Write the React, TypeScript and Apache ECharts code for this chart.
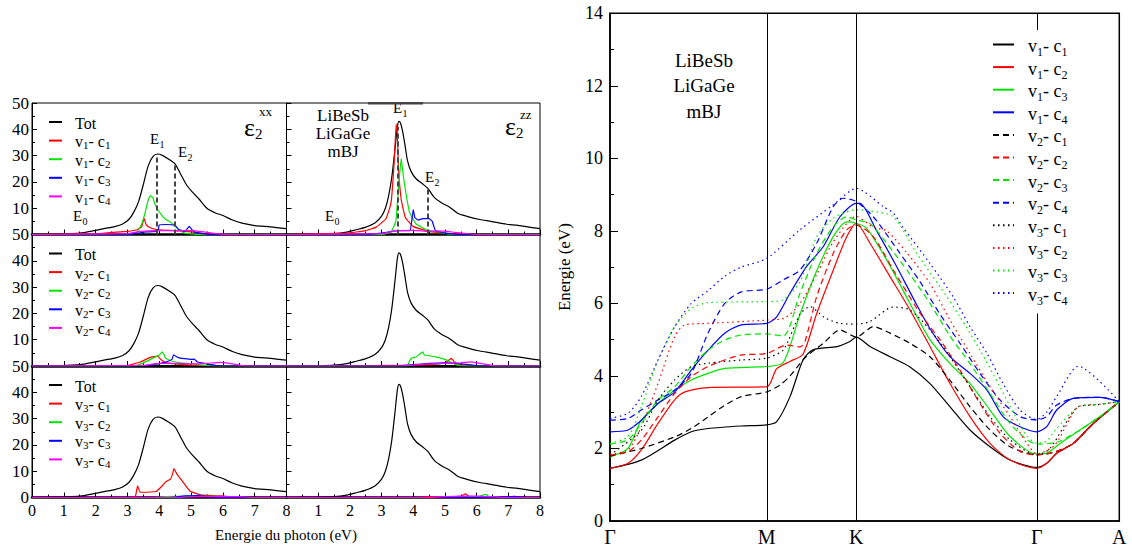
import React, { useEffect, useRef } from "react";
import * as echarts from "echarts";

const SERIF = "'Liberation Serif', 'DejaVu Serif', serif";

// ---------- optical spectra (epsilon_2) ----------
const ENERGY_MAX = 8;
const EPS_MAX = 50;

const TOT_XX = [[0,0],[0.5,0.05],[1.0,0.2],[1.5,0.5],[2.0,1.6],[2.3,2.3],[2.6,3.0],[2.85,4.0],[3.05,5.8],[3.2,8.5],[3.35,12.5],[3.5,19],[3.65,26],[3.8,29.6],[3.95,30.6],[4.1,30.1],[4.3,28.6],[4.5,26.8],[4.65,23.5],[4.85,19],[5.05,16],[5.25,13.5],[5.5,10],[5.75,8.3],[6.0,7.2],[6.3,5.5],[6.6,4.3],[7.0,3.4],[7.5,2.9],[8.0,2.2]];
const TOT_ZZ = [[0,0],[1.0,0.1],[1.5,0.3],[1.9,0.9],[2.2,1.8],[2.5,2.8],[2.8,4.5],[3.0,7],[3.12,10],[3.22,14.5],[3.32,21.5],[3.42,32],[3.5,41],[3.55,43],[3.6,42.3],[3.66,39.5],[3.74,34],[3.82,28],[3.93,24],[4.09,21.2],[4.3,19.2],[4.46,17.5],[4.67,14],[4.9,12],[5.15,10.4],[5.4,8.1],[5.67,7.0],[6.1,5.7],[6.45,5.0],[6.95,3.9],[7.3,3.5],[8,2.2]];

const XX_V1_C1 = [[0,0],[2.0,0.3],[2.5,0.8],[3.0,1.2],[3.3,1.8],[3.45,3],[3.52,6.2],[3.58,4],[3.65,3],[3.8,2.2],[4.0,1.8],[4.5,1.5],[5.0,1.0],[5.5,0.2],[6,0],[8,0]];
const XX_V1_C2 = [[0,0],[3.0,0],[3.3,0.8],[3.45,4],[3.55,8],[3.65,13],[3.72,14.8],[3.8,14],[3.85,12],[3.95,9.5],[4.1,7],[4.2,5.8],[4.35,4.7],[4.5,3.1],[4.65,1.5],[4.8,0.5],[5.2,0],[8,0]];
const XX_V1_C3 = [[0,0],[3.0,0],[3.3,0.5],[3.6,1.0],[3.95,1.2],[4.0,3.6],[4.2,3.8],[4.5,3.5],[4.6,2.0],[4.8,1.2],[4.95,3.1],[5.0,2.2],[5.1,1.0],[5.3,0.4],[5.6,0],[8,0]];
const XX_V1_C4 = [[0,0],[3.0,0.3],[3.4,1.2],[4.0,1.5],[4.5,1.4],[5.0,1.5],[5.4,1.0],[5.8,0.3],[6.2,0],[8,0]];

const XX_V2_C1 = [[0,0],[3.0,0.2],[3.4,1.5],[3.7,3.2],[3.95,3.8],[4.05,2.5],[4.2,1.3],[4.5,0.8],[5.0,0.3],[5.5,0],[8,0]];
const XX_V2_C2 = [[0,0],[3.2,0],[3.5,1.2],[3.8,3],[4.0,4.2],[4.1,5.4],[4.2,3.0],[4.4,1.8],[4.7,1.2],[5.0,0.8],[5.5,0.2],[6,0],[8,0]];
const XX_V2_C3 = [[0,0],[3.4,0],[3.8,0.5],[4.2,1.5],[4.4,2.5],[4.45,4.2],[4.6,3.2],[4.8,2.8],[5.0,2.5],[5.1,2.6],[5.2,1.5],[5.5,0.8],[5.8,0.2],[6.2,0],[8,0]];
const XX_V2_C4 = [[0,0],[3.5,0.2],[4.0,1.0],[4.5,1.0],[5.0,0.8],[5.5,1.0],[5.9,1.4],[6.2,1.0],[6.6,0.2],[7,0],[8,0]];

const XX_V3_C1 = [[0,0],[3.1,0],[3.25,0.5],[3.32,4.4],[3.4,2.0],[3.9,2.3],[4.1,4.5],[4.2,5.9],[4.35,7.0],[4.42,9],[4.46,11],[4.55,9],[4.7,6.6],[4.96,2.5],[5.3,1.0],[5.7,0.7],[6.0,0.6],[6.3,0],[8,0]];
const XX_V3_C2 = [[0,0],[3.8,0],[4.2,0.3],[5.0,0.5],[5.8,0.4],[6.3,0],[8,0]];
const XX_V3_C3 = [[0,0],[4.3,0],[4.8,0.6],[5.2,0.7],[5.6,0.3],[6,0],[8,0]];
const XX_V3_C4 = [[0,0],[4.5,0],[5.2,0.3],[6.0,0.4],[6.5,0.3],[7.0,0],[8,0]];

const ZZ_V1_C1 = [[0,0],[1.9,0.5],[2.5,1.5],[2.83,2.8],[3.14,6],[3.3,12],[3.4,28],[3.46,42],[3.5,38],[3.53,26],[3.62,13.3],[3.75,6.5],[4.0,3],[4.5,1.2],[5.0,0.5],[5.5,0.1],[6,0],[8,0]];
const ZZ_V1_C2 = [[0,0],[3.0,0],[3.3,1],[3.45,5],[3.55,20],[3.62,29],[3.66,25],[3.72,19.4],[3.88,8.5],[4.09,4],[4.41,1.8],[4.83,0.9],[5.2,0],[8,0]];
const ZZ_V1_C3 = [[0,0],[2.5,0],[3.0,0.5],[3.5,1.5],[3.9,1.5],[3.95,5],[4.0,9.5],[4.05,6.5],[4.15,5.5],[4.3,6],[4.5,6],[4.6,5],[4.7,1.5],[5.0,0.5],[5.5,0],[8,0]];
const ZZ_V1_C4 = [[0,0],[3.0,0.3],[3.5,1.5],[4.0,1.6],[4.5,1.2],[5.0,1.3],[5.3,0.8],[5.8,0.2],[6.2,0],[8,0]];

const ZZ_V2_C1 = [[0,0],[2,0],[3,0.2],[4,0.3],[4.8,0.8],[5.05,1.5],[5.2,2.9],[5.3,1.5],[5.5,0.3],[6,0],[8,0]];
const ZZ_V2_C2 = [[0,0],[3.8,0],[3.93,2.9],[4.1,3.5],[4.3,5.4],[4.35,4.2],[4.7,3.5],[5.0,2.5],[5.3,0.8],[5.5,0],[8,0]];
const ZZ_V2_C3 = [[0,0],[3.5,0],[4.0,0.5],[4.5,1.0],[5.0,1.2],[5.5,0.8],[6.0,0.2],[6.4,0],[8,0]];
const ZZ_V2_C4 = [[0,0],[3.5,0],[4.5,0.8],[5.0,1.0],[5.5,1.2],[5.8,1.6],[6.1,1.0],[6.5,0.2],[7,0],[8,0]];

const ZZ_V3_C1 = [[0,0],[4.1,0],[4.5,0.3],[5.5,0.4],[5.65,1.5],[5.75,0.4],[6.2,0],[8,0]];
const ZZ_V3_C2 = [[0,0],[5.5,0],[6.0,0.3],[6.3,1.2],[6.4,0.3],[6.8,0],[8,0]];
const ZZ_V3_C3 = [[0,0],[6.5,0],[7.2,0.4],[7.6,0],[8,0]];
const ZZ_V3_C4 = [[0,0],[4.5,0],[5.0,0.3],[5.5,0.5],[6.0,0.5],[6.6,0.2],[7,0],[8,0]];

// transition energies marked by dashed lines: [energy, eps2 at that energy]
const E_MARKS_XX = [[3.92, 30.6], [4.5, 26.8]];
const E_MARKS_ZZ = [[3.5, 41], [4.45, 17.5]];

// ---------- band structure ----------
const K_POINTS = [0, 1.567, 2.463, 4.267, 5.093];
const K_LABELS = ["Γ", "M", "K", "Γ", "A"];
const BAND_E_MAX = 14;

const B_V1_C1 = [[0,1.45],[0.313,1.68],[0.647,2.23],[0.813,2.46],[0.98,2.55],[1.313,2.62],[1.567,2.65],[1.667,2.74],[1.8,3.43],[1.93,4.44],[2.03,4.72],[2.27,4.81],[2.4,4.95],[2.463,5.07],[2.6,4.81],[2.8,4.53],[3.0,4.25],[3.2,3.79],[3.4,3.15],[3.6,2.51],[3.8,2.05],[4.0,1.68],[4.267,1.48],[4.367,1.59],[4.467,1.87],[4.633,2.14],[4.833,2.69],[5.093,3.29]];
const B_V1_C2 = [[0,1.45],[0.18,1.59],[0.313,1.96],[0.48,2.69],[0.647,3.34],[0.75,3.56],[0.98,3.68],[1.567,3.7],[1.667,4.2],[1.8,4.4],[1.93,4.6],[2.067,5.72],[2.233,6.92],[2.367,7.84],[2.463,8.21],[2.6,7.66],[2.8,6.74],[3.0,5.82],[3.2,4.81],[3.4,3.79],[3.6,2.88],[3.8,2.14],[4.0,1.68],[4.267,1.45],[4.367,1.59],[4.467,1.87],[4.633,2.14],[4.833,2.69],[5.093,3.29]];
const B_V1_C3 = [[0,1.77],[0.18,2.0],[0.313,2.78],[0.48,3.24],[0.647,3.61],[0.813,3.89],[0.98,4.07],[1.147,4.21],[1.567,4.26],[1.733,4.37],[1.9,5.7],[2.067,6.9],[2.233,7.84],[2.367,8.25],[2.463,8.21],[2.567,8.07],[2.767,7.2],[3.0,6.0],[3.2,5.0],[3.4,4.34],[3.6,3.79],[3.8,3.06],[4.0,2.33],[4.267,1.85],[4.367,1.87],[4.5,2.14],[4.7,2.51],[4.9,2.88],[5.093,3.29]];
const B_V1_C4 = [[0,2.46],[0.18,2.51],[0.313,2.78],[0.48,3.24],[0.647,3.56],[0.813,4.16],[0.98,4.71],[1.147,5.18],[1.313,5.41],[1.567,5.45],[1.667,5.63],[1.8,6.28],[1.967,7.02],[2.133,7.57],[2.3,8.39],[2.463,8.76],[2.5,8.76],[2.667,8.0],[2.85,7.1],[3.05,6.05],[3.2,5.3],[3.4,4.53],[3.6,4.07],[3.77,3.61],[3.93,2.88],[4.1,2.6],[4.267,2.46],[4.367,2.6],[4.467,3.06],[4.633,3.38],[4.9,3.41],[5.093,3.29]];

const B_V2_C1 = [[0,1.79],[0.313,2.0],[0.647,2.32],[0.813,2.55],[0.98,2.87],[1.147,3.19],[1.313,3.43],[1.567,3.56],[1.7,3.75],[1.8,4.0],[1.95,4.5],[2.133,4.9],[2.3,5.27],[2.463,5.07],[2.633,5.36],[2.8,5.18],[3.0,4.9],[3.2,4.53],[3.4,3.88],[3.6,3.15],[3.8,2.51],[4.0,2.05],[4.267,1.82],[4.367,1.85],[4.467,1.92],[4.633,2.14],[4.833,2.69],[5.093,3.29]];
const B_V2_C2 = [[0,1.82],[0.18,1.91],[0.313,2.23],[0.48,2.87],[0.647,3.52],[0.813,3.98],[0.98,4.26],[1.147,4.44],[1.313,4.58],[1.567,4.62],[1.767,4.85],[1.9,4.8],[1.95,4.95],[2.067,6.19],[2.233,7.38],[2.367,8.03],[2.463,8.16],[2.633,7.84],[2.833,6.92],[3.1,5.73],[3.3,5.0],[3.5,4.16],[3.7,3.24],[3.9,2.42],[4.1,1.92],[4.267,1.82],[4.367,1.85],[4.467,1.92],[4.633,2.14],[4.833,2.69],[5.093,3.29]];
const B_V2_C3 = [[0,2.12],[0.18,2.24],[0.313,2.69],[0.48,3.34],[0.647,3.7],[0.813,4.26],[0.98,4.71],[1.147,4.99],[1.313,5.13],[1.567,5.16],[1.733,5.1],[1.9,6.28],[2.067,7.38],[2.233,8.12],[2.367,8.39],[2.463,8.3],[2.6,8.2],[2.767,7.66],[3.0,6.8],[3.2,6.0],[3.4,5.1],[3.6,4.34],[3.8,3.52],[4.0,2.69],[4.17,2.24],[4.267,2.12],[4.367,2.13],[4.5,2.2],[4.7,2.51],[4.9,2.88],[5.093,3.29]];
const B_V2_C4 = [[0,2.78],[0.18,2.83],[0.313,3.06],[0.48,3.34],[0.647,3.61],[0.813,4.07],[0.98,5.18],[1.147,6.0],[1.313,6.32],[1.567,6.39],[1.733,6.65],[1.9,6.92],[2.067,7.66],[2.233,8.67],[2.333,8.9],[2.463,8.81],[2.633,8.39],[2.9,7.38],[3.1,6.6],[3.3,5.7],[3.5,4.9],[3.7,4.07],[3.9,3.34],[4.1,2.88],[4.267,2.79],[4.367,2.88],[4.467,3.2],[4.633,3.38],[4.9,3.41],[5.093,3.29]];

const B_V3_C1 = [[0,1.82],[0.313,2.5],[0.48,3.34],[0.647,3.89],[0.813,4.26],[0.98,4.35],[1.313,4.44],[1.567,4.49],[1.733,4.72],[1.9,5.7],[2.0,5.91],[2.15,5.6],[2.3,5.45],[2.463,5.43],[2.6,5.5],[2.83,5.9],[3.0,5.82],[3.2,5.27],[3.4,4.53],[3.6,3.7],[3.8,2.88],[4.0,2.24],[4.267,1.82],[4.4,2.0],[4.683,3.15],[4.85,3.2],[5.093,3.29]];
const B_V3_C2 = [[0,1.84],[0.18,1.96],[0.313,2.6],[0.48,3.79],[0.647,5.09],[0.75,5.41],[0.98,5.45],[1.567,5.54],[1.75,5.6],[1.9,6.0],[2.067,6.8],[2.233,7.7],[2.463,8.4],[2.633,8.1],[2.767,8.0],[2.967,7.4],[3.2,6.55],[3.4,5.54],[3.6,4.62],[3.8,3.7],[4.0,2.88],[4.17,2.14],[4.267,1.85],[4.45,2.1],[4.683,3.15],[4.9,3.22],[5.093,3.29]];
const B_V3_C3 = [[0,2.14],[0.18,2.33],[0.313,3.15],[0.48,4.44],[0.647,5.36],[0.813,5.86],[0.98,6.02],[1.567,6.05],[1.733,6.1],[1.9,6.6],[2.067,7.84],[2.233,8.35],[2.463,8.58],[2.6,8.55],[2.833,8.39],[3.067,7.38],[3.3,6.46],[3.5,5.63],[3.7,4.71],[3.9,3.7],[4.05,2.9],[4.17,2.35],[4.267,2.14],[4.367,2.2],[4.45,2.5],[4.683,3.15],[4.9,3.22],[5.093,3.29]];
const B_V3_C4 = [[0,2.83],[0.18,2.97],[0.313,3.43],[0.48,4.44],[0.647,5.36],[0.813,6.0],[0.98,6.35],[1.147,6.75],[1.313,7.0],[1.567,7.24],[1.9,8.03],[2.233,8.72],[2.463,9.17],[2.733,8.67],[2.833,8.49],[2.93,8.1],[3.2,7.1],[3.43,6.19],[3.6,5.36],[3.77,4.62],[3.93,3.79],[4.1,3.06],[4.267,2.8],[4.367,3.0],[4.467,3.43],[4.683,4.27],[5.093,3.29]];

// ---------- styling ----------
const SPEC_COLORS = ["#ff0000", "#00e600", "#0000ff", "#ff00ff"];
const BAND_COLORS = ["#000000", "#ff0000", "#00e600", "#0000ff"];
const BAND_DASH: any[] = ["solid", [6, 4], [1.5, 3.5]];

const COL_LEFT = [32, 286.5];
const COL_WIDTH = [254.5, 253.5];
const ROW_TOP = [103, 234.5, 366];
const ROW_H = 131.5;

function legendRich(v: number, c: number) {
  return `{g|}{t|v}{s|${v}}{t|- c}{s|${c}}`;
}

function buildOption() {
  const specSets = [
    [XX_V1_C1, XX_V1_C2, XX_V1_C3, XX_V1_C4],
    [ZZ_V1_C1, ZZ_V1_C2, ZZ_V1_C3, ZZ_V1_C4],
    [XX_V2_C1, XX_V2_C2, XX_V2_C3, XX_V2_C4],
    [ZZ_V2_C1, ZZ_V2_C2, ZZ_V2_C3, ZZ_V2_C4],
    [XX_V3_C1, XX_V3_C2, XX_V3_C3, XX_V3_C4],
    [ZZ_V3_C1, ZZ_V3_C2, ZZ_V3_C3, ZZ_V3_C4],
  ];
  const grids: any[] = [];
  const xAxes: any[] = [];
  const yAxes: any[] = [];
  const series: any[] = [];
  const legends: any[] = [];
  const nameMap: Record<string, string> = {};

  for (let g = 0; g < 6; g++) {
    const row = Math.floor(g / 2);
    const col = g % 2;
    grids.push({
      left: COL_LEFT[col], top: ROW_TOP[row], width: COL_WIDTH[col], height: ROW_H,
      show: true, borderColor: "#000", borderWidth: 1, containLabel: false,
    });
    xAxes.push({
      type: "value", gridIndex: g, min: 0, max: ENERGY_MAX, interval: 1,
      axisLine: { show: true, lineStyle: { color: "#000", width: 2.5 } },
      axisTick: { show: true, inside: true, length: 5, lineStyle: { color: "#000" } },
      minorTick: { show: true, splitNumber: 2, length: 3, lineStyle: { color: "#000" } },
      splitLine: { show: false },
      axisLabel: {
        show: row === 2, margin: 5, color: "#000", fontFamily: SERIF, fontSize: 16,
        formatter: (v: number) => (col === 1 && v === 0 ? "" : String(v)),
      },
    });
    yAxes.push({
      type: "value", gridIndex: g, min: 0, max: EPS_MAX, interval: 10,
      axisLine: { show: true, lineStyle: { color: "#000", width: 1 } },
      axisTick: { show: true, inside: true, length: 5, lineStyle: { color: "#000" } },
      minorTick: { show: true, splitNumber: 2, length: 3, lineStyle: { color: "#000" } },
      splitLine: { show: false },
      axisLabel: {
        show: col === 0, margin: 3, color: "#000", fontFamily: SERIF, fontSize: 17,
        formatter: (v: number) => (row < 2 && v === 0 ? "" : String(v)),
      },
    });
    const v = row + 1;
    const totName = `p${g}_tot`;
    nameMap[totName] = "{g|}{t|Tot}{s| }";
    const marks = g === 0 ? E_MARKS_XX : g === 1 ? E_MARKS_ZZ : null;
    series.push({
      name: totName, type: "line", xAxisIndex: g, yAxisIndex: g,
      data: col === 0 ? TOT_XX : TOT_ZZ, symbol: "none", smooth: 0.25,
      lineStyle: { color: "#000", width: 1.2 }, itemStyle: { color: "#000" },
      z: 2,
      markLine: marks
        ? {
            silent: true, symbol: ["none", "none"], label: { show: false },
            lineStyle: { color: "#444", type: [5, 3], width: 2 },
            data: marks.map((m) => [{ coord: [m[0], 0] }, { coord: [m[0], m[1]] }]),
          }
        : undefined,
    });
    const names = [totName];
    specSets[g].forEach((d, i) => {
      const nm = `p${g}_v${v}c${i + 1}`;
      nameMap[nm] = legendRich(v, i + 1);
      names.push(nm);
      series.push({
        name: nm, type: "line", xAxisIndex: g, yAxisIndex: g, data: d,
        symbol: "none", smooth: 0.1,
        lineStyle: { color: SPEC_COLORS[i], width: 1.2 }, itemStyle: { color: SPEC_COLORS[i] },
        z: 3,
      });
    });
    if (col === 0) {
      legends.push({
        data: names, orient: "vertical", left: 48, top: ROW_TOP[row] + 12,
        itemWidth: 13, itemHeight: 10, itemGap: 1.6, padding: 0, selectedMode: false,
        itemStyle: { opacity: 0 },
        formatter: (n: string) => nameMap[n] || n,
        textStyle: {
          color: "#000", fontFamily: SERIF,
          rich: {
            g: { width: 8 },
            t: { fontSize: 16, lineHeight: 14, verticalAlign: "top", fontFamily: SERIF, color: "#000" },
            s: { fontSize: 11, lineHeight: 12, padding: [6, 0, 0, 0], verticalAlign: "top", fontFamily: SERIF, color: "#000" },
          },
        },
      });
    }
  }

  // band structure
  const BG = 6;
  grids.push({ left: 610, top: 13.3, width: 509.3, height: 507.7, show: true, borderColor: "#000", borderWidth: 1.5 });
  xAxes.push({
    type: "value", gridIndex: BG, min: 0, max: K_POINTS[4],
    axisLine: { show: true, lineStyle: { color: "#000", width: 1.5 } },
    axisTick: { show: false }, splitLine: { show: false },
    axisLabel: {
      customValues: K_POINTS, margin: 6, color: "#000", fontFamily: SERIF, fontSize: 20,
      formatter: (val: number) => {
        let best = 0;
        K_POINTS.forEach((k, i) => { if (Math.abs(k - val) < Math.abs(K_POINTS[best] - val)) best = i; });
        return K_LABELS[best];
      },
    },
  });
  yAxes.push({
    type: "value", gridIndex: BG, min: 0, max: BAND_E_MAX, interval: 2,
    name: "Energie (eV)", nameLocation: "middle", nameGap: 37,
    nameTextStyle: { color: "#000", fontFamily: SERIF, fontSize: 17 },
    axisLine: { show: true, lineStyle: { color: "#000", width: 1.5 } },
    axisTick: { show: true, inside: true, length: 8, lineStyle: { color: "#000" } },
    minorTick: { show: true, splitNumber: 2, length: 4, lineStyle: { color: "#000" } },
    splitLine: { show: false },
    axisLabel: { margin: 7, color: "#000", fontFamily: SERIF, fontSize: 18 },
  });
  const bandSets = [
    [B_V1_C1, B_V1_C2, B_V1_C3, B_V1_C4],
    [B_V2_C1, B_V2_C2, B_V2_C3, B_V2_C4],
    [B_V3_C1, B_V3_C2, B_V3_C3, B_V3_C4],
  ];
  const bandNames: string[] = [];
  bandSets.forEach((set, vi) => {
    set.forEach((d, ci) => {
      const nm = `band_v${vi + 1}c${ci + 1}`;
      nameMap[nm] = `{g|}{t|v}{s|${vi + 1}}{t|- c}{s|${ci + 1}}`;
      bandNames.push(nm);
      series.push({
        name: nm, type: "line", xAxisIndex: BG, yAxisIndex: BG, data: d,
        symbol: "none", smooth: 0.25,
        lineStyle: { color: BAND_COLORS[ci], width: 1.2, type: BAND_DASH[vi] },
        itemStyle: { color: BAND_COLORS[ci] },
        z: 3,
        markLine: vi === 0 && ci === 0
          ? {
              silent: true, symbol: ["none", "none"], label: { show: false },
              lineStyle: { color: "#000", type: "solid", width: 1 },
              data: [K_POINTS[1], K_POINTS[2], K_POINTS[3]].map((k) => ({ xAxis: k })),
            }
          : undefined,
      });
    });
  });
  legends.push({
    data: bandNames, orient: "vertical", left: 984, top: 30,
    itemWidth: 21, itemHeight: 12, itemGap: 1.6, padding: [7, 18, 7, 8],
    backgroundColor: "#ffffff", selectedMode: false, z: 10,
    itemStyle: { opacity: 0 },
    formatter: (n: string) => nameMap[n] || n,
    textStyle: {
      color: "#000", fontFamily: SERIF,
      rich: {
        g: { width: 9 },
        t: { fontSize: 18, lineHeight: 15, verticalAlign: "top", fontFamily: SERIF, color: "#000" },
        s: { fontSize: 12, lineHeight: 13, padding: [9, 0, 0, 0], verticalAlign: "top", fontFamily: SERIF, color: "#000" },
      },
    },
  });

  const txt = (x: number, y: number, text: string, size: number, align = "left") => ({
    type: "text", x, y, z: 20,
    style: { text, fill: "#000", font: `${size}px ${SERIF}`, textAlign: align, textVerticalAlign: "middle" },
  });
  const eLabel = (x: number, y: number, idx: string) => [
    txt(x, y, "E", 15), txt(x + 9.5, y + 5, idx, 10),
  ];
  const graphic: any[] = [
    ...eLabel(73, 216, "0"), ...eLabel(150, 139, "1"), ...eLabel(178, 152, "2"),
    ...eLabel(325, 216, "0"), ...eLabel(393, 108, "1"), ...eLabel(425, 177, "2"),
    txt(244, 127, "ε", 26), txt(255, 134, "2", 15), txt(259, 111, "xx", 13),
    txt(505, 126, "ε", 26), txt(516, 133, "2", 15), txt(520, 114, "zz", 13),
    txt(343, 115, "LiBeSb", 17, "center"), txt(343, 133, "LiGaGe", 17, "center"), txt(343, 151, "mBJ", 17, "center"),
    txt(704, 60, "LiBeSb", 19, "center"), txt(704, 85, "LiGaGe", 19, "center"), txt(704, 111.5, "mBJ", 19, "center"),
    txt(286, 535, "Energie du photon (eV)", 15, "center"),
    { type: "rect", z: 20, shape: { x: 368, y: 102, width: 55, height: 2.5 }, style: { fill: "#444" } },
  ];

  return {
    animation: false,
    backgroundColor: "#fff",
    grid: grids, xAxis: xAxes, yAxis: yAxes, series, legend: legends, graphic,
  };
}

export default function App() {
  const ref = useRef<HTMLDivElement>(null);
  useEffect(() => {
    if (!ref.current) return;
    const chart = echarts.init(ref.current, undefined, { renderer: "svg" });
    chart.setOption(buildOption() as any);
    return () => chart.dispose();
  }, []);
  return <div ref={ref} style={{ position: "absolute", left: 0, top: 0, width: 1132, height: 550 }} />;
}
